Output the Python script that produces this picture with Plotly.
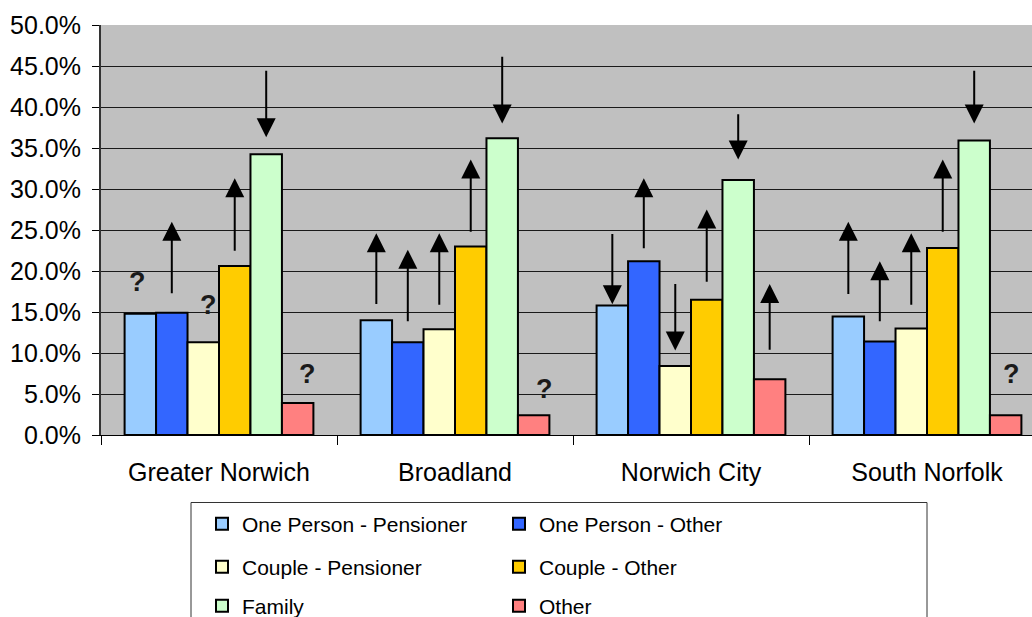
import plotly.graph_objects as go

# Household composition share (%) by district
districts = ["Greater Norwich", "Broadland", "Norwich City", "South Norfolk"]
series_names = ["One Person - Pensioner", "One Person - Other", "Couple - Pensioner",
                "Couple - Other", "Family", "Other"]
series_colors = ["#99CCFF", "#3366FF", "#FFFFCC", "#FFCC00", "#CCFFCC", "#FF8080"]

one_person_pensioner = [14.8, 14.0, 15.8, 14.45]
one_person_other = [14.9, 11.3, 21.2, 11.4]
couple_pensioner = [11.3, 12.9, 8.4, 13.0]
couple_other = [20.6, 23.0, 16.5, 22.8]
family = [34.25, 36.2, 31.1, 35.9]
other = [3.9, 2.4, 6.8, 2.4]
series_values = [one_person_pensioner, one_person_other, couple_pensioner,
                 couple_other, family, other]

# Trend arrows: (district index, series index, arrow tail %, arrow tip %)
trend_arrows = [
    (0, 1, 17.1, 26.0), (0, 3, 22.3, 31.3), (0, 4, 44.6, 36.3),
    (1, 0, 15.8, 24.6), (1, 1, 13.7, 22.6), (1, 2, 15.7, 24.6), (1, 3, 24.6, 33.6), (1, 4, 46.3, 38.0),
    (2, 0, 24.7, 15.95), (2, 1, 22.6, 31.3), (2, 2, 18.6, 10.3), (2, 3, 18.5, 27.5),
    (2, 4, 39.3, 33.6), (2, 5, 10.2, 18.4),
    (3, 0, 17.0, 26.0), (3, 1, 13.7, 21.2), (3, 2, 15.7, 24.6), (3, 3, 24.6, 33.6), (3, 4, 44.6, 38.0),
]
# Uncertain trends: (district index, series index, label height %)
unknown_marks = [(0, 0, 18.6), (0, 2, 15.8), (0, 5, 7.5), (1, 5, 5.6), (3, 5, 7.5)]
unknown_nudge_px = [-3, 5, 10, 11, 6]

FONT = "Liberation Sans, Arial, sans-serif"
W, H = 1032, 617
L, R, T, B = 101, 0, 25, 182
plot_w, plot_h = W - L - R, H - T - B

n_series = len(series_names)
bar_gap = 0.2
bar_w = (1 - bar_gap) / n_series


def bar_x(g, s):
    return g + (s - (n_series - 1) / 2) * bar_w


def px_x(px):
    return (px - L) / plot_w


def px_y(py):
    return (H - B - py) / plot_h


legend_ids = ["legend", "legend2", "legend3"]

fig = go.Figure()
for i, (name, color, vals) in enumerate(zip(series_names, series_colors, series_values)):
    fig.add_trace(go.Bar(
        name=name, x=districts, y=vals,
        marker=dict(color=color, line=dict(color="#000000", width=2)),
        legend=legend_ids[i // 2],
    ))

annotations = []
for g, s, tail, tip in trend_arrows:
    annotations.append(dict(
        x=bar_x(g, s), y=tip, ax=bar_x(g, s), ay=tail,
        xref="x", yref="y", axref="x", ayref="y",
        text="", showarrow=True, arrowhead=2, arrowsize=1.9,
        arrowwidth=2, arrowcolor="#000000", standoff=0, startstandoff=0,
    ))
for (g, s, yv), nudge in zip(unknown_marks, unknown_nudge_px):
    annotations.append(dict(
        x=bar_x(g, s), y=yv, xref="x", yref="y", xshift=nudge,
        text="<b>?</b>", showarrow=False,
        font=dict(family=FONT, size=27, color="#1a1a1a"),
    ))

# Legend rows, two entries each
row_centers_px = [524, 567, 606]
legend_left_px = 202
legend_cfg = {}
for lid, ypx in zip(legend_ids, row_centers_px):
    legend_cfg[lid] = dict(
        orientation="h", x=px_x(legend_left_px), xanchor="left",
        y=px_y(ypx), yanchor="middle",
        entrywidth=252, entrywidthmode="pixels",
        bgcolor="rgba(0,0,0,0)", borderwidth=0,
        font=dict(family=FONT, size=21, color="#000000"),
    )

fig.update_layout(
    width=W, height=H,
    margin=dict(l=L, r=R, t=T, b=B, pad=0, autoexpand=False),
    paper_bgcolor="#FFFFFF", plot_bgcolor="#C0C0C0",
    barmode="group", bargap=bar_gap, bargroupgap=0,
    showlegend=True, hovermode=False,
    font=dict(family=FONT, size=25, color="#000000"),
    annotations=annotations,
    shapes=[dict(
        type="rect", xref="paper", yref="paper", layer="below",
        x0=px_x(191), x1=px_x(927), y0=px_y(660), y1=px_y(502.5),
        fillcolor="#FFFFFF", line=dict(color="#333333", width=1),
    )],
    **legend_cfg,
)

fig.update_xaxes(
    type="category", range=[-0.5, -0.5 + plot_w / 236.0],
    showline=True, linecolor="#000000", linewidth=1,
    ticks="outside", tickson="boundaries", ticklen=9, tickcolor="#000000", tickwidth=1,
    ticklabelstandoff=15, showgrid=False,
    tickfont=dict(family=FONT, size=25, color="#000000"),
)
fig.update_yaxes(
    range=[0, 50], dtick=5, tickformat=".1f", ticksuffix="%",
    showline=True, linecolor="#333333", linewidth=2,
    ticks="outside", ticklen=7, tickcolor="#000000", tickwidth=1,
    ticklabelstandoff=6,
    showgrid=True, gridcolor="#1a1a1a", gridwidth=1, zeroline=False,
    tickfont=dict(family=FONT, size=25, color="#000000"),
)

fig.write_html("out.html", config={"displayModeBar": False})
